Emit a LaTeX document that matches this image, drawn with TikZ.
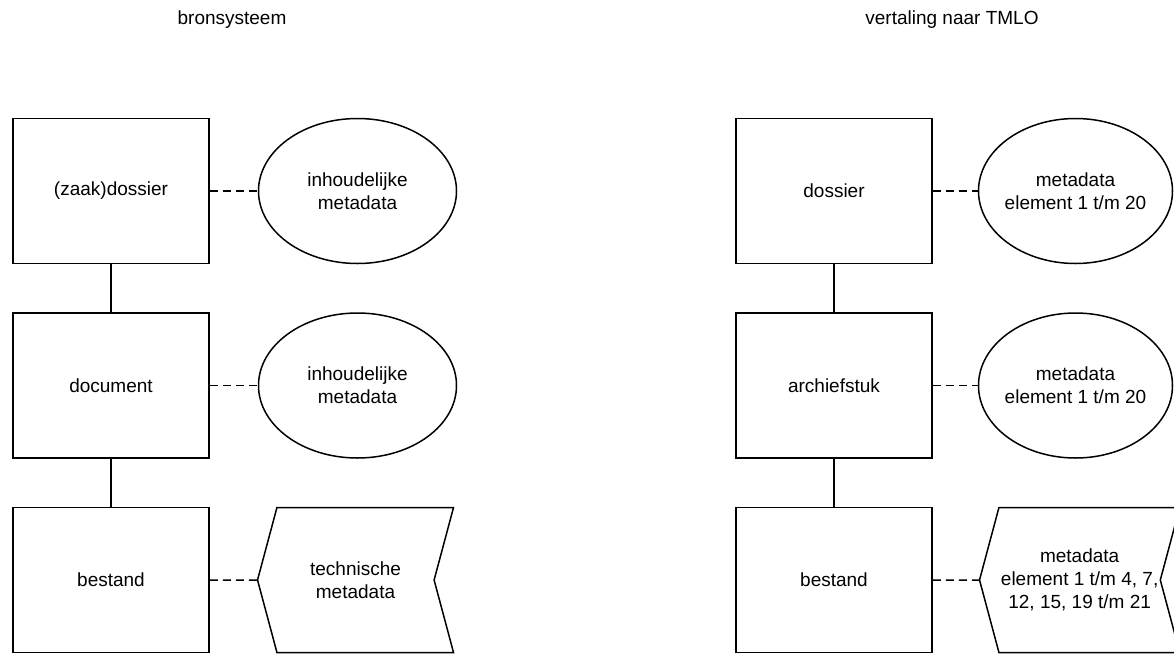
\documentclass[tikz,border=0pt]{standalone}
\usepackage{fontspec}
\setmainfont{Liberation Sans}
\usetikzlibrary{positioning, shapes.geometric, shapes.symbols}
\tikzset{
font=\fontsize{9.5}{11.5}\selectfont, % Arial-like text everywhere
every node/.style={align=center}, % allows line breaks in the labels
entity/.style={draw, line width=0.75pt, minimum width=98pt, minimum height=72.5pt}, % the level boxes
metaoval/.style={draw, ellipse, line width=0.75pt, minimum width=98pt, minimum height=72.5pt, inner xsep=-3pt, inner ysep=0pt}, % metadata ovals
metasignal/.style={draw, signal, signal to=west, signal from=east, signal pointer angle=150, line width=0.75pt, minimum width=98pt, minimum height=72.5pt, inner sep=1pt}, % technical metadata
assoc/.style={dashed, dash pattern=on 4pt off 2.5pt, line width=0.75pt}, % dashed link to metadata
level/.style={line width=0.75pt}, % vertical link between the levels
}

\begin{document}
\begin{tikzpicture}[node distance=24pt and 24pt]
  \useasboundingbox (-55.5pt,-232pt) rectangle (531.5pt,95.5pt);

  % Titles
  \node (titleL) at (60.5pt,85.5pt) {bronsysteem};
  \node (titleR) at (420.5pt,85.5pt) {vertaling naar TMLO};

  % Bronsysteem
  \node[entity] (dossL) {(zaak)dossier};
  \node[entity, below=of dossL] (docL) {document};
  \node[entity, below=of docL] (bestL) {bestand};
  \node[metaoval, minimum width=99pt, right=of dossL] (inhL1) {inhoudelijke\\metadata};
  \node[metaoval, minimum width=99pt, right=of docL] (inhL2) {inhoudelijke\\metadata};
  \node[metasignal, right=23.5pt of bestL] (techL) {technische\\metadata};

  % Vertaling naar TMLO
  \node[entity, right=139pt of inhL1] (dossR) {dossier};
  \node[entity, below=of dossR] (stukR) {archiefstuk};
  \node[entity, below=of stukR] (bestR) {bestand};
  \node[metaoval, minimum width=97pt, right=22.5pt of dossR] (metR1) {metadata\\element 1 t/m 20};
  \node[metaoval, minimum width=97pt, right=22.5pt of stukR] (metR2) {metadata\\element 1 t/m 20};
  \node[metasignal, minimum width=97pt, right=23pt of bestR] (metR3) {metadata\\element 1 t/m 4, 7,\\12, 15, 19 t/m 21};

  % Links
  \draw[level] (dossL) -- (docL);
  \draw[level] (docL) -- (bestL);
  \draw[level] (dossR) -- (stukR);
  \draw[level] (stukR) -- (bestR);
  \draw[assoc] (dossL) -- (inhL1);
  \draw[assoc] (docL) -- (inhL2);
  \draw[assoc] (bestL) -- (techL);
  \draw[assoc] (dossR) -- (metR1);
  \draw[assoc] (stukR) -- (metR2);
  \draw[assoc] (bestR) -- (metR3);
\end{tikzpicture}
\end{document}
